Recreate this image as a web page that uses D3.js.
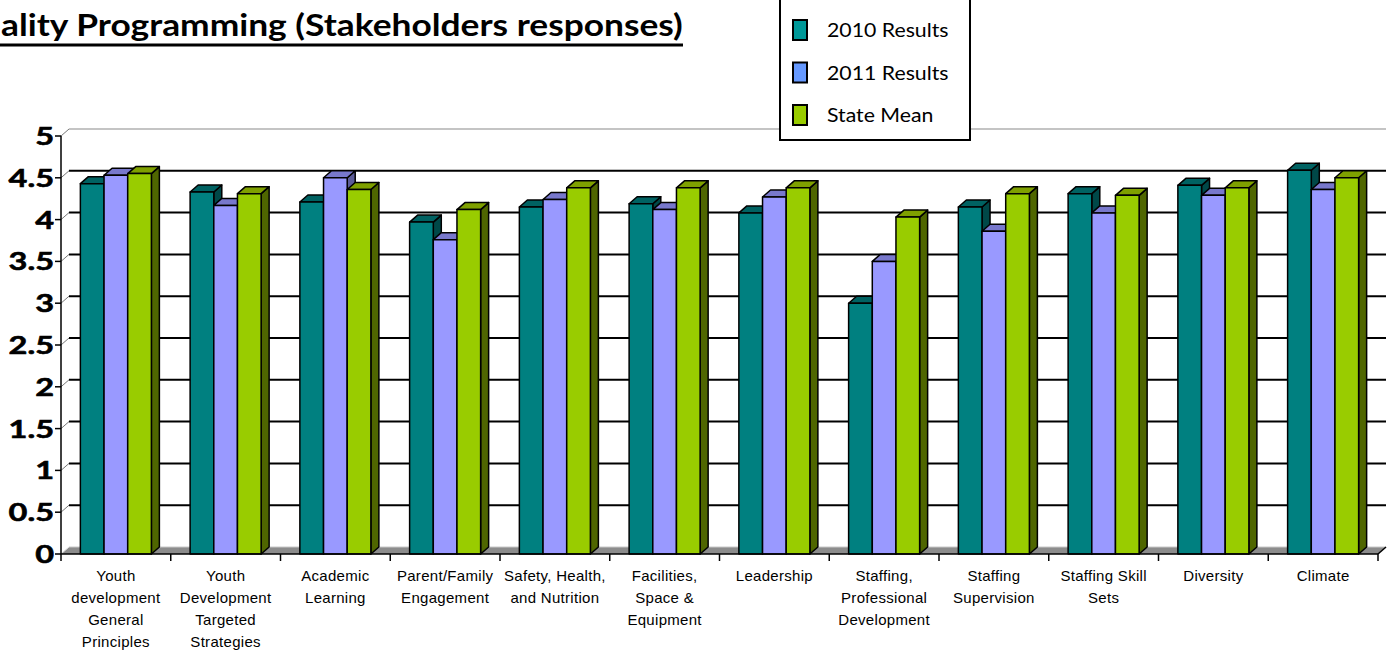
<!DOCTYPE html>
<html>
<head>
<meta charset="utf-8">
<script src="https://cdn.jsdelivr.net/npm/d3@7"></script>
<style>
  body { margin: 0; background: #fff; }
  svg { display: block; }
</style>
</head>
<body>
<div id="chart"></div>
<script>
const categories = ['Youth development General Principles', 'Youth Development Targeted Strategies',
  'Academic Learning', 'Parent/Family Engagement', 'Safety, Health, and Nutrition',
  'Facilities, Space & Equipment', 'Leadership', 'Staffing, Professional Development',
  'Staffing Supervision', 'Staffing Skill Sets', 'Diversity', 'Climate']
const labelLines = [
  ['Youth', 'development', 'General', 'Principles'],
  ['Youth', 'Development', 'Targeted', 'Strategies'],
  ['Academic', 'Learning'],
  ['Parent/Family', 'Engagement'],
  ['Safety, Health,', 'and Nutrition'],
  ['Facilities,', 'Space &', 'Equipment'],
  ['Leadership'],
  ['Staffing,', 'Professional', 'Development'],
  ['Staffing', 'Supervision'],
  ['Staffing Skill', 'Sets'],
  ['Diversity'],
  ['Climate']
]
const series = ['2010 Results', '2011 Results', 'State Mean']
const results2010 = [4.43, 4.33, 4.21, 3.97, 4.15, 4.19, 4.08, 3.00, 4.15, 4.31, 4.41, 4.59]
const results2011 = [4.53, 4.17, 4.50, 3.76, 4.24, 4.12, 4.27, 3.50, 3.86, 4.08, 4.29, 4.36]
const stateMean = [4.55, 4.31, 4.36, 4.12, 4.38, 4.38, 4.38, 4.03, 4.31, 4.29, 4.38, 4.50]
const yTicks = [0, 0.5, 1, 1.5, 2, 2.5, 3, 3.5, 4, 4.5, 5]
const yTickLabels = ['0', '0.5', '1', '1.5', '2', '2.5', '3', '3.5', '4', '4.5', '5']

const frontColors = ['#008080', '#9999ff', '#99cc00']
const topColors = ['#006262', '#7878cc', '#7fa000']
const sideColors = ['#004848', '#5c5c99', '#4f6600']
const legendColors = ['#009999', '#6699ff', '#99cc00']

const values = [results2010, results2011, stateMean]

let width = 1396
let height = 651
let dx = 8, dy = -7

let svg = d3.select('#chart')
  .append('svg')
  .attr('width', width)
  .attr('height', height)

let x = d3.scaleBand().domain(categories).range([61, 1378])
let y = d3.scaleLinear().domain([0, 5]).range([554, 136])
let groupW = x.bandwidth() * 0.647
let x1 = d3.scaleBand().domain(series).range([0, groupW])

// title - only the part that shows in the original
let title = svg.append('text')
  .attr('font-family', 'Lato, sans-serif')
  .attr('font-weight', 'bold')
  .attr('font-size', 30)
  .text('ality Programming (Stakeholders responses)')
let tw = title.node().getComputedTextLength()
title.attr('transform', 'translate(1,36) scale(' + (682 / tw) + ',1)')
svg.append('line')
  .attr('x1', 0).attr('x2', 683)
  .attr('y1', 45).attr('y2', 45)
  .attr('stroke', '#000').attr('stroke-width', 3)

// floor
let floorPts = [[x.range()[0], y(0)], [x.range()[1], y(0)], [x.range()[1] + dx, y(0) + dy], [x.range()[0] + dx, y(0) + dy]]
svg.append('polygon')
  .attr('points', floorPts.map(p => p.join(',')).join(' '))
  .attr('fill', '#8c8c8c')
svg.append('line')
  .attr('x1', x.range()[0] + dx).attr('x2', x.range()[1] + dx)
  .attr('y1', y(0) + dy).attr('y2', y(0) + dy)
  .attr('stroke', '#c8c8c8').attr('stroke-width', 1)
svg.append('line')
  .attr('x1', x.range()[1]).attr('x2', x.range()[1] + dx)
  .attr('y1', y(0)).attr('y2', y(0) + dy)
  .attr('stroke', '#000').attr('stroke-width', 1.5)

// back wall gridlines
yTicks.filter(t => t > 0).forEach(t => {
  svg.append('line')
    .attr('x1', x.range()[0] + dx).attr('x2', x.range()[1] + dx)
    .attr('y1', y(t) + dy).attr('y2', y(t) + dy)
    .attr('stroke', t === 5 ? '#b0b0b0' : '#000')
    .attr('stroke-width', t === 5 ? 1.5 : 2)
})
yTicks.forEach(t => {
  svg.append('line')
    .attr('x1', x.range()[0]).attr('x2', x.range()[0] + dx)
    .attr('y1', y(t)).attr('y2', y(t) + dy)
    .attr('stroke', t === 0 ? '#ddd' : '#777').attr('stroke-width', 1)
})

// bars
categories.forEach((cat, i) => {
  series.forEach((s, j) => {
    let v = values[j][i]
    let x0 = x(cat) + (x.bandwidth() - groupW) / 2 + x1(s)
    let w = x1.bandwidth()
    let top = y(v)
    let bottom = y(0)
    let g = svg.append('g')
      .attr('stroke', '#000')
      .attr('stroke-width', 1.5)
      .attr('stroke-linejoin', 'round')
    g.append('polygon')
      .attr('points', [[x0 + w, top], [x0 + w + dx, top + dy], [x0 + w + dx, bottom + dy], [x0 + w, bottom]].map(p => p.join(',')).join(' '))
      .attr('fill', sideColors[j])
    g.append('polygon')
      .attr('points', [[x0, top], [x0 + dx, top + dy], [x0 + w + dx, top + dy], [x0 + w, top]].map(p => p.join(',')).join(' '))
      .attr('fill', topColors[j])
    g.append('rect')
      .attr('x', x0).attr('y', top)
      .attr('width', w).attr('height', bottom - top)
      .attr('fill', frontColors[j])
  })
})

// y axis
svg.append('line')
  .attr('x1', x.range()[0]).attr('x2', x.range()[0])
  .attr('y1', y(5)).attr('y2', y(0))
  .attr('stroke', '#000').attr('stroke-width', 1.5)
yTicks.forEach((t, i) => {
  svg.append('line')
    .attr('x1', x.range()[0] - 6).attr('x2', x.range()[0])
    .attr('y1', y(t)).attr('y2', y(t))
    .attr('stroke', '#000').attr('stroke-width', 1.5)
  svg.append('text')
    .attr('transform', 'translate(54,' + (y(t) + 9) + ') scale(1.3,1)')
    .attr('text-anchor', 'end')
    .attr('font-family', 'Lato, sans-serif')
    .attr('font-weight', 'bold')
    .attr('font-size', 25)
    .attr('stroke', '#000')
    .attr('stroke-width', 0.6)
    .attr('fill', '#000')
    .text(yTickLabels[i])
})

// x axis
svg.append('line')
  .attr('x1', x.range()[0]).attr('x2', x.range()[1])
  .attr('y1', y(0)).attr('y2', y(0))
  .attr('stroke', '#000').attr('stroke-width', 1.5)
let tickXs = categories.map(c => x(c)).concat([x.range()[1]])
tickXs.forEach(tx => {
  svg.append('line')
    .attr('x1', tx).attr('x2', tx)
    .attr('y1', y(0)).attr('y2', y(0) + 7)
    .attr('stroke', '#000').attr('stroke-width', 1.5)
})
categories.forEach((cat, i) => {
  let t = svg.append('text')
    .attr('text-anchor', 'middle')
    .attr('font-family', '"Liberation Sans", Arial, sans-serif')
    .attr('font-size', 15)
    .attr('letter-spacing', 0.3)
    .attr('fill', '#000')
  labelLines[i].forEach((line, k) => {
    t.append('tspan')
      .attr('x', x(cat) + x.bandwidth() / 2)
      .attr('y', 581 + k * 22)
      .text(line)
  })
})

// legend
let legend = svg.append('g')
legend.append('rect')
  .attr('x', 780).attr('y', -2)
  .attr('width', 190).attr('height', 142)
  .attr('fill', '#fff')
  .attr('stroke', '#000').attr('stroke-width', 2)
let legendY = d3.scalePoint().domain(series).range([30, 115])
series.forEach((s, j) => {
  legend.append('rect')
    .attr('x', 793).attr('y', legendY(s) - 10)
    .attr('width', 14).attr('height', 20)
    .attr('fill', legendColors[j])
    .attr('stroke', '#000').attr('stroke-width', 2)
  legend.append('text')
    .attr('transform', 'translate(827,' + (legendY(s) + 7) + ') scale(1.12,1)')
    .attr('font-family', 'Lato, sans-serif')
    .attr('font-size', 19)
    .attr('fill', '#000')
    .text(s)
})
</script>
</body>
</html>
